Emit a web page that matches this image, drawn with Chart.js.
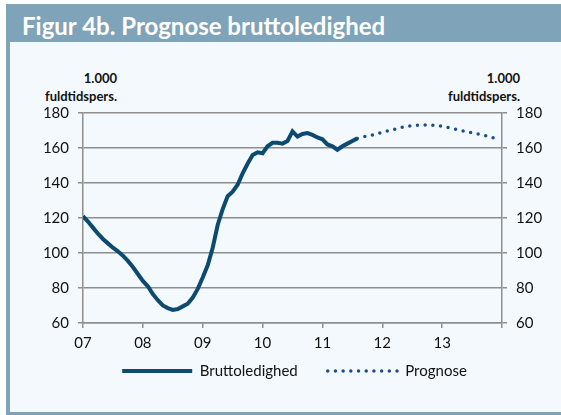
<!DOCTYPE html>
<html>
<head>
<meta charset="utf-8">
<script src="https://cdn.jsdelivr.net/npm/chart.js@4.4.1/dist/chart.umd.min.js"></script>
<style>
  html, body { margin: 0; padding: 0; background: #ffffff; }
  body { width: 561px; height: 415px; position: relative; overflow: hidden; font-family: Lato, "Open Sans", sans-serif; }
  #frame { position: absolute; left: 6px; top: 4px; width: 555px; height: 411px; background: #7fa3b8; }
  #title { position: absolute; left: 16px; top: 7px; color: #ffffff; font-weight: bold; font-size: 24px; line-height: 30px; white-space: nowrap; }
  #panel { position: absolute; left: 4px; top: 38px; width: 551px; height: 370px; background: #f4f9fd; }
  .unit { position: absolute; top: 27px; font-weight: bold; font-size: 13px; line-height: 18px; text-align: right; color: #111; }
  #unitL { right: 444px; }
  #unitR { right: 41px; }
  canvas { position: absolute; left: 0; top: 0; }
</style>
</head>
<body>
<div id="frame">
  <div id="title">Figur 4b. Prognose bruttoledighed</div>
  <div id="panel">
    <div class="unit" id="unitL">1.000<br>fuldtidspers.</div>
    <div class="unit" id="unitR">1.000<br>fuldtidspers.</div>
    <canvas id="chart" width="551" height="370"></canvas>
  </div>
</div>
<script>
// x axis: months since Jan 2007, one label per year
const yearLabels = ['07', '08', '09', '10', '11', '12', '13'];

// Bruttoledighed, monthly from Jan 2007 (1.000 fuldtidspers.)
const bruttoValues = [
  121, 118, 114.5, 111, 108, 105.5, 103, 101, 98.5, 95.5, 92, 88,
  84, 81, 76.5, 73, 70, 68.5, 67.5, 68, 69.5, 71, 74.5, 79.5,
  86, 93, 103, 116, 125, 132.5, 135, 139, 145.5, 151, 156, 157.5,
  157, 161, 163, 163, 162.5, 164, 169.5, 166.5, 168, 168.5, 167.5, 166,
  165, 162, 161, 159, 161, 162.5, 164, 165.5
];

// Prognose, monthly from Aug 2011
const prognoseStart = 55;
const prognoseValues = [
  165.5, 166.2, 166.8, 167.4, 168.1, 168.9, 169.7, 170.4, 171.1, 171.8,
  172.3, 172.7, 173.0, 173.1, 173.1, 173.0, 172.8, 172.4, 171.8, 171.1,
  170.5, 169.9, 169.3, 168.7, 168.1, 167.5, 166.9, 166.0, 165.2
];

const gridColor = '#8e8e8e';
const tickFont = { family: 'Lato', size: 15 };

const bruttoData = bruttoValues.map((v, i) => ({ x: i, y: v }));
const prognoseData = prognoseValues.map((v, i) => ({ x: prognoseStart + i, y: v }));

// pull the legend row up closer to the axis labels
const legendLift = {
  id: 'legendLift',
  afterLayout(chart) {
    const lg = chart.legend;
    if (!lg) return;
    lg.top -= 23.5;
    lg.bottom -= 23.5;
  }
};

new Chart(document.getElementById('chart'), {
  type: 'line',
  data: {
    datasets: [
      {
        label: 'Bruttoledighed',
        data: bruttoData,
        borderColor: '#0d4a70',
        backgroundColor: '#0d4a70',
        borderWidth: 4,
        borderCapStyle: 'butt',
        pointRadius: 0,
        tension: 0,
        yAxisID: 'y'
      },
      {
        label: 'Prognose',
        data: prognoseData,
        borderColor: '#1d4e85',
        backgroundColor: '#1d4e85',
        borderWidth: 3.5,
        borderDash: [0, 7.7],
        borderCapStyle: 'round',
        pointRadius: 0,
        tension: 0,
        yAxisID: 'y'
      }
    ]
  },
  plugins: [legendLift],
  options: {
    responsive: false,
    animation: false,
    layout: { padding: { top: 71, left: 18, right: 0, bottom: 0 } },
    plugins: {
      tooltip: { enabled: false },
      legend: {
        position: 'bottom',
        labels: {
          usePointStyle: true,
          pointStyleWidth: 70,
          boxHeight: 15,
          padding: 30,
          color: '#111',
          font: { family: 'Lato', size: 15 },
          // legend samples follow each dataset's own line style
          generateLabels: chart => chart.data.datasets.map((ds, i) => ({
            text: ds.label,
            fillStyle: ds.borderColor,
            strokeStyle: ds.borderColor,
            lineWidth: ds.borderWidth,
            lineDash: ds.borderDash || [],
            lineCap: ds.borderCapStyle,
            pointStyle: 'line',
            fontColor: '#111',
            hidden: false,
            datasetIndex: i
          }))
        }
      }
    },
    scales: {
      x: {
        type: 'linear',
        min: 0,
        max: 84,
        afterFit: s => { s.height = 34; },
        ticks: {
          stepSize: 12,
          autoSkip: false,
          maxRotation: 0,
          padding: 6,
          color: '#111',
          font: tickFont,
          callback: v => yearLabels[v / 12] || ''
        },
        grid: { drawOnChartArea: false, drawTicks: true, tickLength: 5, color: gridColor, lineWidth: 1.5 },
        border: { display: true, color: gridColor, width: 1.5 }
      },
      y: {
        position: 'left',
        min: 60,
        max: 180,
        afterFit: s => { s.width = 55; },
        ticks: { stepSize: 20, padding: 9, color: '#111', font: tickFont },
        grid: { color: gridColor, lineWidth: 1.5, tickLength: 5 },
        border: { display: true, color: gridColor, width: 1.5 }
      },
      y2: {
        position: 'right',
        min: 60,
        max: 180,
        afterFit: s => { s.width = 59; },
        ticks: { stepSize: 20, padding: 9, color: '#111', font: tickFont },
        grid: { drawOnChartArea: false, color: gridColor, lineWidth: 1.5, tickLength: 5 },
        border: { display: true, color: gridColor, width: 1.5 }
      }
    }
  }
});
</script>
</body>
</html>
